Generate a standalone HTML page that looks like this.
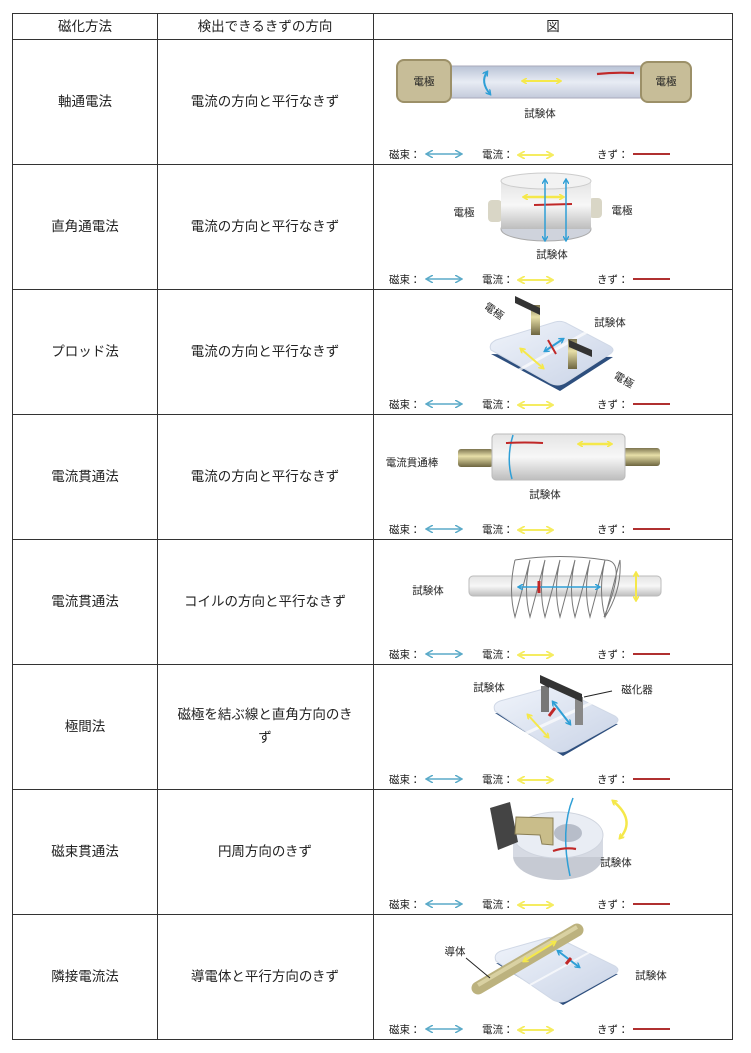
<!DOCTYPE html>
<html><head><meta charset="utf-8"><style>
html,body{margin:0;padding:0;background:#fff;}
svg{display:block;font-family:"Liberation Sans","Noto Sans CJK JP",sans-serif;}
.t{font-size:13.5px;fill:#222;text-anchor:middle;}
.s{font-size:10.5px;fill:#222;text-anchor:middle;}
.l{font-size:10.5px;fill:#222;}
</style></head><body>
<svg width="751" height="1053" viewBox="0 0 751 1053" xmlns="http://www.w3.org/2000/svg">
<defs>
<marker id="ab" markerWidth="6" markerHeight="6" refX="4" refY="3" orient="auto-start-reverse" markerUnits="userSpaceOnUse"><path d="M0,0 L5,3 L0,6" fill="none" stroke="#2f9fd6" stroke-width="1.4"/></marker>
<marker id="ay" markerWidth="6" markerHeight="6" refX="4" refY="3" orient="auto-start-reverse" markerUnits="userSpaceOnUse"><path d="M0,0 L5,3 L0,6" fill="none" stroke="#f5e84a" stroke-width="1.6"/></marker>
<marker id="lb" markerWidth="8" markerHeight="8" refX="6" refY="4" orient="auto-start-reverse" markerUnits="userSpaceOnUse"><path d="M0,0 L7,4 L0,8" fill="none" stroke="#5aaac8" stroke-width="1.5"/></marker>
<marker id="ly" markerWidth="8" markerHeight="8" refX="6" refY="4" orient="auto-start-reverse" markerUnits="userSpaceOnUse"><path d="M0,0 L7,4 L0,8" fill="none" stroke="#f5ec60" stroke-width="1.8"/></marker>
<linearGradient id="rod" x1="0" y1="0" x2="0" y2="1"><stop offset="0" stop-color="#b9c3d6"/><stop offset="0.5" stop-color="#e8ecf4"/><stop offset="1" stop-color="#c3cadb"/></linearGradient>
<linearGradient id="gray" x1="0" y1="0" x2="0" y2="1"><stop offset="0" stop-color="#e4e4e4"/><stop offset="0.5" stop-color="#f7f7f7"/><stop offset="1" stop-color="#bdbdbd"/></linearGradient>
<linearGradient id="gold" x1="0" y1="0" x2="0" y2="1"><stop offset="0" stop-color="#7d7550"/><stop offset="0.4" stop-color="#e7dfa8"/><stop offset="1" stop-color="#6d6540"/></linearGradient>
<linearGradient id="plate" x1="0" y1="0" x2="1" y2="1"><stop offset="0" stop-color="#f0f4fb"/><stop offset="1" stop-color="#c9d3e6"/></linearGradient>
</defs>

<!-- grid -->
<g stroke="#333" stroke-width="1" fill="none">
<rect x="12.5" y="13.5" width="720" height="1026"/>
<line x1="157.5" y1="13" x2="157.5" y2="1040"/>
<line x1="373.5" y1="13" x2="373.5" y2="1040"/>
<line x1="12" y1="39.5" x2="733" y2="39.5"/>
<line x1="12" y1="164.5" x2="733" y2="164.5"/>
<line x1="12" y1="289.5" x2="733" y2="289.5"/>
<line x1="12" y1="414.5" x2="733" y2="414.5"/>
<line x1="12" y1="539.5" x2="733" y2="539.5"/>
<line x1="12" y1="664.5" x2="733" y2="664.5"/>
<line x1="12" y1="789.5" x2="733" y2="789.5"/>
<line x1="12" y1="914.5" x2="733" y2="914.5"/>
</g>

<text class="t" x="85" y="31">磁化方法</text>
<text class="t" x="265" y="31">検出できるきずの方向</text>
<text class="t" x="553" y="31">図</text>

<text class="t" x="85" y="106">軸通電法</text><text class="t" x="265" y="106">電流の方向と平行なきず</text>
<text class="t" x="85" y="231">直角通電法</text><text class="t" x="265" y="231">電流の方向と平行なきず</text>
<text class="t" x="85" y="356">プロッド法</text><text class="t" x="265" y="356">電流の方向と平行なきず</text>
<text class="t" x="85" y="481">電流貫通法</text><text class="t" x="265" y="481">電流の方向と平行なきず</text>
<text class="t" x="85" y="606">電流貫通法</text><text class="t" x="265" y="606">コイルの方向と平行なきず</text>
<text class="t" x="85" y="731">極間法</text><text class="t" x="265" y="719">磁極を結ぶ線と直角方向のき</text><text class="t" x="265" y="742">ず</text>
<text class="t" x="85" y="856">磁束貫通法</text><text class="t" x="265" y="856">円周方向のきず</text>
<text class="t" x="85" y="981">隣接電流法</text><text class="t" x="265" y="981">導電体と平行方向のきず</text>

<!-- legends -->
<g id="leg">
<text class="l" x="389" y="158">磁束：</text>
<line x1="427" y1="154" x2="461" y2="154" stroke="#5aaac8" stroke-width="1.5" marker-start="url(#lb)" marker-end="url(#lb)"/>
<text class="l" x="482" y="158">電流：</text>
<line x1="519" y1="155" x2="552" y2="155" stroke="#f5ec60" stroke-width="2" marker-start="url(#ly)" marker-end="url(#ly)"/>
<text class="l" x="597" y="158">きず：</text>
<line x1="633" y1="154" x2="670" y2="154" stroke="#b03030" stroke-width="2"/>
</g>
<use href="#leg" y="125"/><use href="#leg" y="250"/><use href="#leg" y="375"/><use href="#leg" y="500"/><use href="#leg" y="625"/><use href="#leg" y="750"/><use href="#leg" y="875"/>

<!-- row1 -->
<rect x="449" y="66" width="193" height="32" fill="url(#rod)" stroke="#aab" stroke-width="1"/>
<rect x="397" y="60" width="54" height="42" rx="7" fill="#c7bd98" stroke="#9c9068" stroke-width="2"/>
<rect x="641" y="62" width="50" height="40" rx="7" fill="#c7bd98" stroke="#9c9068" stroke-width="2"/>
<text class="s" x="424" y="85">電極</text><text class="s" x="666" y="85">電極</text>
<path d="M487,72 Q480,82 490,94" fill="none" stroke="#2f9fd6" stroke-width="2" marker-start="url(#ab)" marker-end="url(#ab)"/>
<line x1="523" y1="81" x2="560" y2="81" stroke="#f5e84a" stroke-width="2" marker-start="url(#ay)" marker-end="url(#ay)"/>
<path d="M597,74 Q615,72 634,73" stroke="#c02828" stroke-width="2.2" fill="none"/>
<text class="s" x="540" y="117">試験体</text>

<!-- row2 -->
<rect x="488" y="200" width="14" height="22" rx="4" fill="#d9d6c6"/>
<rect x="589" y="198" width="13" height="20" rx="4" fill="#d9d6c6"/>
<ellipse cx="546" cy="229" rx="45" ry="12" fill="#cfd3dc" stroke="#aaa"/>
<rect x="501" y="181" width="90" height="48" fill="url(#gray)"/>
<ellipse cx="546" cy="181" rx="45" ry="8" fill="#f2f2f2" stroke="#ccc"/>
<line x1="524" y1="197" x2="563" y2="197" stroke="#f5e84a" stroke-width="2.5" marker-start="url(#ay)" marker-end="url(#ay)"/>
<line x1="534" y1="205" x2="572" y2="204" stroke="#c02828" stroke-width="2"/>
<line x1="545" y1="180" x2="545" y2="240" stroke="#2f9fd6" stroke-width="1.5" marker-start="url(#ab)" marker-end="url(#ab)"/>
<line x1="566" y1="180" x2="566" y2="240" stroke="#2f9fd6" stroke-width="1.5" marker-start="url(#ab)" marker-end="url(#ab)"/>
<text class="s" x="464" y="216">電極</text><text class="s" x="622" y="214">電極</text>
<text class="s" x="552" y="258">試験体</text>

<!-- row3 -->
<path d="M491,354 L560,391 L613,357 Z" fill="#2e4f7e"/>
<path d="M491,350 Q488,344 496,340 L555,322 Q562,320 568,324 L610,346 Q616,350 610,354 L565,383 Q558,387 550,383 Z" fill="url(#plate)" stroke="#d0d8e6"/>
<path d="M510,375 L594,328" stroke="#fff" stroke-width="3" opacity="0.7"/>
<rect x="531" y="305" width="9" height="30" fill="url(#gold)"/>
<path d="M515,296 L540,308 L540,315 L515,303 Z" fill="#333"/>
<rect x="568" y="339" width="9" height="30" fill="url(#gold)"/>
<path d="M569,340 L592,350 L592,357 L569,347 Z" fill="#333"/>
<line x1="545" y1="351" x2="563" y2="339" stroke="#2f9fd6" stroke-width="2" marker-start="url(#ab)" marker-end="url(#ab)"/>
<line x1="548" y1="340" x2="556" y2="354" stroke="#c02828" stroke-width="2"/>
<line x1="521" y1="349" x2="543" y2="368" stroke="#f5e84a" stroke-width="2" marker-start="url(#ay)" marker-end="url(#ay)"/>
<text class="s" x="492" y="314" transform="rotate(35 492 314)">電極</text>
<text class="s" x="610" y="326">試験体</text>
<text class="s" x="622" y="383" transform="rotate(30 622 383)">電極</text>

<!-- row4 -->
<rect x="458" y="449" width="35" height="18" rx="3" fill="url(#gold)"/>
<rect x="623" y="448" width="37" height="18" rx="3" fill="url(#gold)"/>
<rect x="492" y="434" width="133" height="46" rx="4" fill="url(#gray)" stroke="#bbb"/>
<path d="M513,435 Q506,458 512,479" fill="none" stroke="#2f9fd6" stroke-width="1.5"/>
<path d="M506,443 Q525,442 543,443" stroke="#c02828" stroke-width="2" fill="none"/>
<line x1="579" y1="444" x2="611" y2="444" stroke="#f5e84a" stroke-width="2.5" marker-start="url(#ay)" marker-end="url(#ay)"/>
<text class="s" x="412" y="466">電流貫通棒</text>
<text class="s" x="545" y="498">試験体</text>

<!-- row5 -->
<rect x="469" y="576" width="192" height="20" rx="4" fill="url(#gray)" stroke="#bbb"/>
<g fill="none" stroke="#777" stroke-width="1">
<path d="M515,560 Q508,590 515,617 Q522,590 530,560 Q523,590 530,617 Q537,590 545,560 Q538,590 545,617 Q552,590 560,560 Q553,590 560,617 Q567,590 575,560 Q568,590 575,617 Q582,590 590,560 Q583,590 590,617 Q597,590 605,560 Q598,590 605,617 Q612,590 620,560 Q622,590 605,617"/>
<path d="M515,560 Q560,553 605,560 Q628,560 604,617"/>
</g>
<line x1="519" y1="587" x2="599" y2="587" stroke="#2f9fd6" stroke-width="1.5" marker-start="url(#ab)" marker-end="url(#ab)"/>
<line x1="539" y1="581" x2="539" y2="593" stroke="#c02828" stroke-width="3"/>
<line x1="636" y1="573" x2="636" y2="600" stroke="#f5e84a" stroke-width="2" marker-start="url(#ay)" marker-end="url(#ay)"/>
<text class="s" x="428" y="594">試験体</text>

<!-- row6 -->
<path d="M495,713 L563,756 L618,724 Z" fill="#2e4f7e"/>
<path d="M495,711 Q492,704 500,701 L547,688 Q554,686 560,689 L615,716 Q621,720 615,724 L568,750 Q561,754 553,750 Z" fill="url(#plate)" stroke="#d0d8e6"/>
<path d="M518,737 L598,700" stroke="#fff" stroke-width="3" opacity="0.7"/>
<rect x="541" y="686" width="8" height="26" fill="#777"/>
<rect x="575" y="697" width="8" height="28" fill="#888"/>
<path d="M540,675 L582,694 L582,702 L549,687 L549,688 L540,683 Z" fill="#333"/>
<line x1="553" y1="702" x2="570" y2="724" stroke="#2f9fd6" stroke-width="2" marker-start="url(#ab)" marker-end="url(#ab)"/>
<line x1="549" y1="716" x2="555" y2="708" stroke="#c02828" stroke-width="3"/>
<line x1="528" y1="715" x2="548" y2="737" stroke="#f5e84a" stroke-width="2" marker-start="url(#ay)" marker-end="url(#ay)"/>
<line x1="584" y1="697" x2="612" y2="691" stroke="#222" stroke-width="1"/>
<text class="s" x="489" y="691">試験体</text>
<text class="s" x="637" y="693">磁化器</text>

<!-- row7 -->
<ellipse cx="558" cy="856" rx="45" ry="24" fill="#c6cad3"/>
<rect x="513" y="835" width="90" height="22" fill="#d6dae3"/>
<ellipse cx="558" cy="835" rx="45" ry="23" fill="#e9edf4" stroke="#cfd4de"/>
<ellipse cx="568" cy="833" rx="14" ry="9" fill="#b7bdc9"/>
<path d="M490,808 L510,802 L518,842 L498,850 Z" fill="#444"/>
<path d="M516,817 L553,818 L553,845 L542,844 L540,835 L515,834 Z" fill="#c9bd8a" stroke="#8a7f55"/>
<path d="M573,798 Q560,830 570,876" fill="none" stroke="#2f9fd6" stroke-width="1.5"/>
<path d="M553,851 Q565,847 576,849" stroke="#c02828" stroke-width="2.2" fill="none"/>
<path d="M613,801 Q636,820 620,838" fill="none" stroke="#f5e84a" stroke-width="2.5" marker-start="url(#ay)" marker-end="url(#ay)"/>
<text class="s" x="616" y="866">試験体</text>

<!-- row8 -->
<path d="M496,963 L563,1005 L618,974 Z" fill="#2e4f7e"/>
<path d="M496,961 Q493,954 501,951 L547,938 Q554,936 560,939 L615,966 Q621,970 615,974 L568,1000 Q561,1004 553,1000 Z" fill="url(#plate)" stroke="#d0d8e6"/>
<path d="M530,985 L590,952" stroke="#fff" stroke-width="2" opacity="0.7"/>
<line x1="478" y1="988" x2="577" y2="930" stroke="#bcb27e" stroke-width="13" stroke-linecap="round"/>
<line x1="478" y1="985" x2="577" y2="927" stroke="#d9d1a2" stroke-width="4"/>
<line x1="524" y1="961" x2="555" y2="942" stroke="#f5e84a" stroke-width="2" marker-start="url(#ay)" marker-end="url(#ay)"/>
<line x1="558" y1="951" x2="579" y2="967" stroke="#2f9fd6" stroke-width="2" marker-start="url(#ab)" marker-end="url(#ab)"/>
<line x1="566" y1="964" x2="571" y2="958" stroke="#c02828" stroke-width="3"/>
<line x1="466" y1="958" x2="490" y2="978" stroke="#222" stroke-width="1"/>
<text class="s" x="455" y="955">導体</text>
<text class="s" x="651" y="979">試験体</text>
</svg>
</body></html>
